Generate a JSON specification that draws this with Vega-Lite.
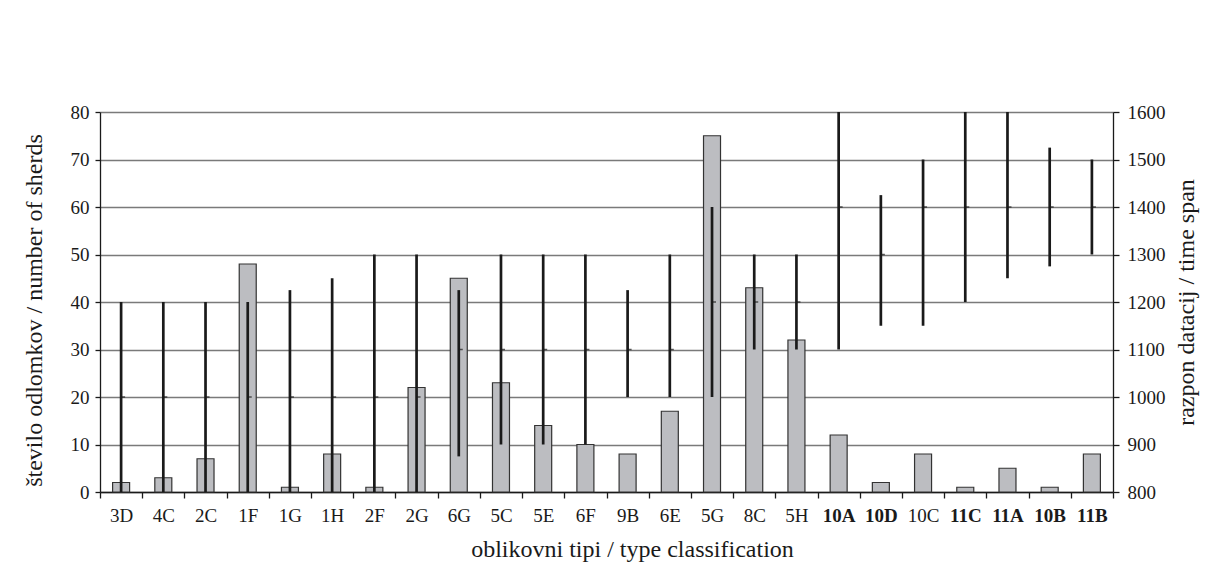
{
  "$schema": "https://vega.github.io/schema/vega-lite/v6.json",
  "width": 1013,
  "height": 380,
  "autosize": "none",
  "padding": {"left": 100, "top": 112, "right": 95, "bottom": 89},
  "background": "white",
  "config": {
    "font": "Liberation Serif",
    "view": {"stroke": null},
    "style": {
      "guide-title": {"font": "Liberation Serif", "fontWeight": "normal"},
      "guide-label": {"font": "Liberation Serif"}
    },
    "axis": {
      "labelFont": "Liberation Serif",
      "titleFont": "Liberation Serif",
      "labelColor": "#1a1a1a",
      "titleColor": "#1a1a1a",
      "titleFontWeight": "normal",
      "labelFontSize": 19,
      "titleFontSize": 24,
      "domainColor": "#1a1a1a",
      "tickColor": "#1a1a1a",
      "domainWidth": 1.3,
      "tickWidth": 1.3
    }
  },
  "data": {
    "values": [
      {"type": "3D", "count": 2, "lo": 800, "hi": 1200, "mid": 1000},
      {"type": "4C", "count": 3, "lo": 800, "hi": 1200, "mid": 1000},
      {"type": "2C", "count": 7, "lo": 800, "hi": 1200, "mid": 1000},
      {"type": "1F", "count": 48, "lo": 800, "hi": 1200, "mid": 1000},
      {"type": "1G", "count": 1, "lo": 800, "hi": 1225, "mid": 1000},
      {"type": "1H", "count": 8, "lo": 800, "hi": 1250, "mid": 1000},
      {"type": "2F", "count": 1, "lo": 800, "hi": 1300, "mid": 1000},
      {"type": "2G", "count": 22, "lo": 800, "hi": 1300, "mid": 1000},
      {"type": "6G", "count": 45, "lo": 875, "hi": 1225, "mid": 1100},
      {"type": "5C", "count": 23, "lo": 900, "hi": 1300, "mid": 1100},
      {"type": "5E", "count": 14, "lo": 900, "hi": 1300, "mid": 1100},
      {"type": "6F", "count": 10, "lo": 900, "hi": 1300, "mid": 1100},
      {"type": "9B", "count": 8, "lo": 1000, "hi": 1225, "mid": 1100},
      {"type": "6E", "count": 17, "lo": 1000, "hi": 1300, "mid": 1100},
      {"type": "5G", "count": 75, "lo": 1000, "hi": 1400, "mid": 1200},
      {"type": "8C", "count": 43, "lo": 1100, "hi": 1300, "mid": 1200},
      {"type": "5H", "count": 32, "lo": 1100, "hi": 1300, "mid": 1200},
      {"type": "10A", "count": 12, "lo": 1100, "hi": 1600, "mid": 1400},
      {"type": "10D", "count": 2, "lo": 1150, "hi": 1425, "mid": 1300},
      {"type": "10C", "count": 8, "lo": 1150, "hi": 1500, "mid": 1400},
      {"type": "11C", "count": 1, "lo": 1200, "hi": 1600, "mid": 1400},
      {"type": "11A", "count": 5, "lo": 1250, "hi": 1600, "mid": 1400},
      {"type": "10B", "count": 1, "lo": 1275, "hi": 1525, "mid": 1400},
      {"type": "11B", "count": 8, "lo": 1300, "hi": 1500, "mid": 1400}
    ]
  },
  "layer": [
    {
      "mark": {"type": "bar", "fill": "#bcbdc1", "stroke": "#333333", "strokeWidth": 1.2, "size": 17},
      "encoding": {
        "x": {
          "field": "type",
          "type": "nominal",
          "sort": null,
          "scale": {"paddingInner": 0, "paddingOuter": 0},
          "axis": {
            "title": "oblikovni tipi / type classification",
            "titleFont": "Liberation Serif",
            "titleFontSize": 24,
            "titleFontWeight": "normal",
            "titleX": 532,
            "titleAlign": "center",
            "labelAngle": 0,
            "tickBand": "extent",
            "tickSize": 6,
            "labelPadding": 8,
            "titlePadding": 12,
            "labelFontWeight": {
              "condition": {"test": "indexof(['10A','10D','11C','11A','10B','11B'], datum.value) >= 0", "value": "bold"},
              "value": "normal"
            }
          }
        },
        "y": {
          "field": "count",
          "type": "quantitative",
          "scale": {"domain": [0, 80], "nice": false},
          "axis": {
            "title": "število odlomkov / number of sherds",
            "titleFont": "Liberation Serif",
            "titleFontSize": 24,
            "titleFontWeight": "normal",
            "titleY": 198,
            "titleAlign": "center",
            "values": [0, 10, 20, 30, 40, 50, 60, 70, 80],
            "grid": true,
            "gridColor": "#7a7a7a",
            "gridWidth": 1.3,
            "tickSize": 5,
            "labelPadding": 6,
            "titlePadding": 24
          }
        }
      }
    },
    {
      "encoding": {
        "x": {"field": "type", "type": "nominal", "sort": null}
      },
      "layer": [
        {
          "mark": {"type": "rule", "color": "#1a1a1a", "strokeWidth": 2.7},
          "encoding": {
            "y": {
              "field": "lo",
              "type": "quantitative",
              "scale": {"domain": [800, 1600], "nice": false},
              "axis": {
                "orient": "right",
                "title": "razpon datacij / time span",
                "titleFont": "Liberation Serif",
                "titleFontSize": 24,
                "titleFontWeight": "normal",
                "titleAngle": 270,
                "titleBaseline": "top",
                "format": "d",
                "values": [800, 900, 1000, 1100, 1200, 1300, 1400, 1500, 1600],
                "grid": false,
                "tickSize": 6,
                "labelPadding": 8,
                "titlePadding": 9
              }
            },
            "y2": {"field": "hi"}
          }
        },
        {
          "mark": {"type": "tick", "orient": "horizontal", "color": "#1a1a1a", "size": 4, "thickness": 1.5, "xOffset": 2},
          "encoding": {
            "y": {"field": "mid", "type": "quantitative", "title": "razpon datacij / time span"}
          }
        }
      ]
    }
  ],
  "resolve": {"scale": {"y": "independent"}}
}
